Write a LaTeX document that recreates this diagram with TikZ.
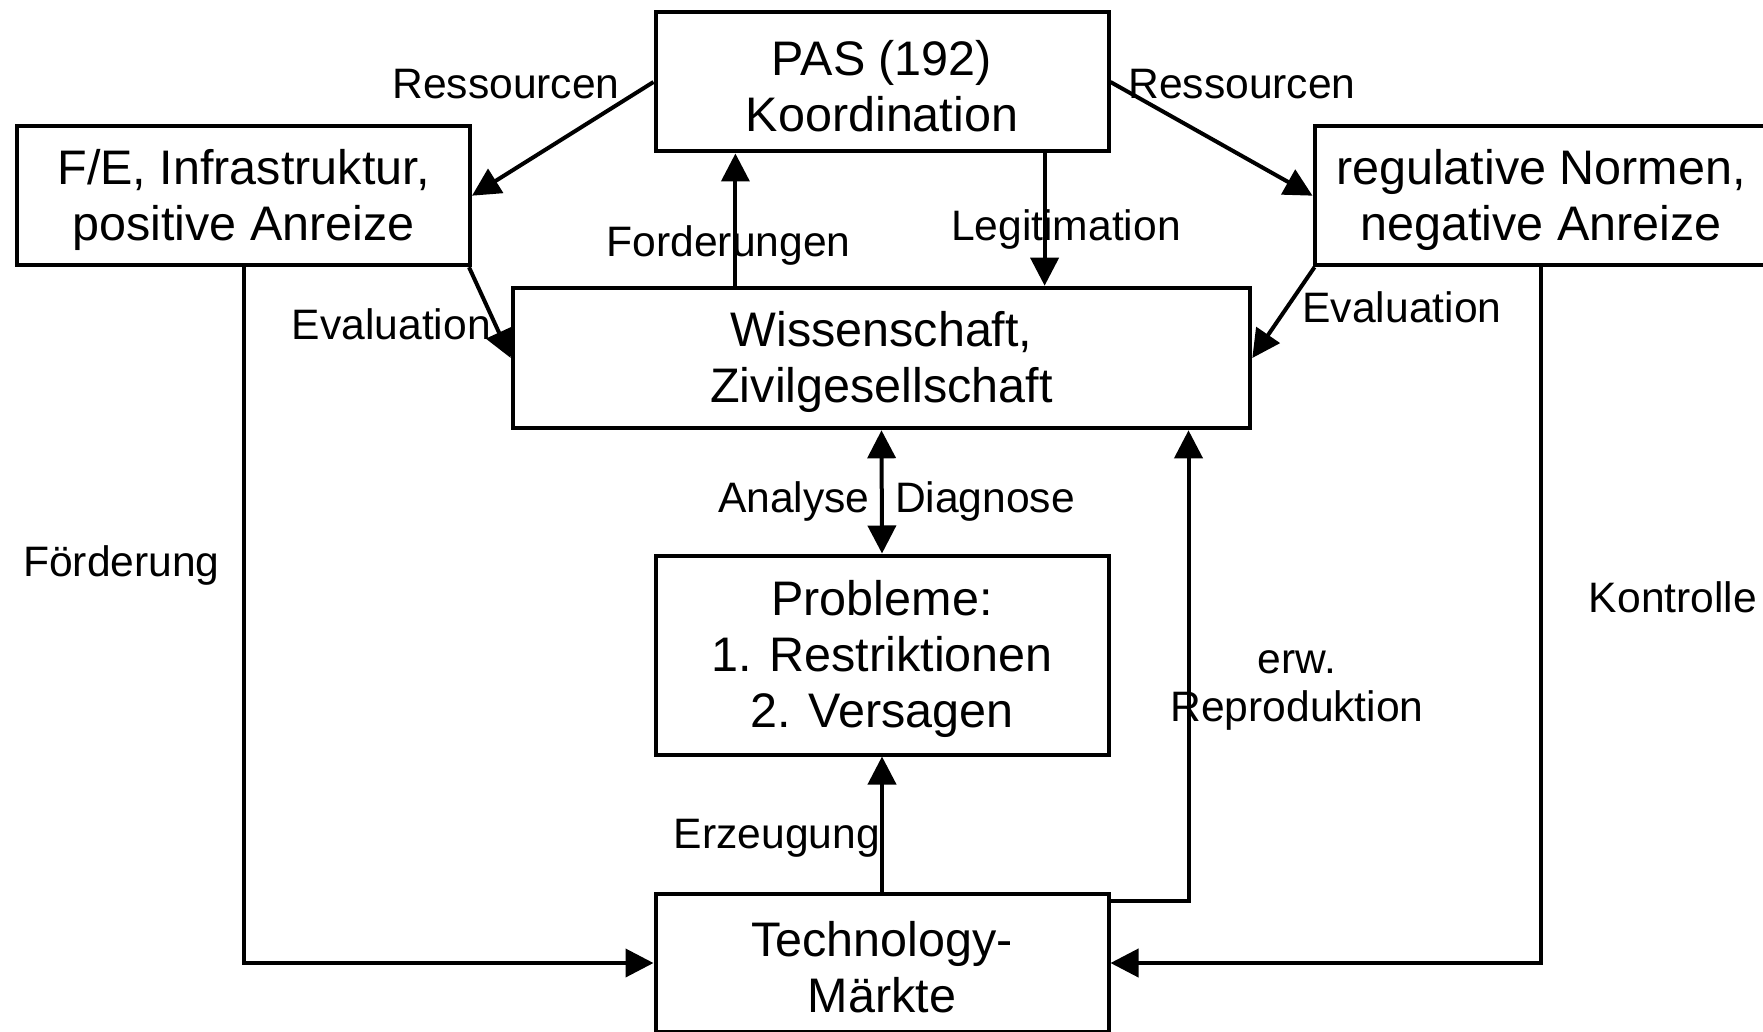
\documentclass[tikz,border=0pt]{standalone}
\usepackage{fontspec}
\setmainfont{Liberation Sans}
\usetikzlibrary{arrows.meta}
\begin{document}
\begin{tikzpicture}[x=1pt,y=-1pt,
  box/.style={draw=black,line width=4pt,fill=white,inner sep=0pt},
  boxtext/.style={inner sep=0pt,align=center,font=\fontsize{48.5}{56}\selectfont},
  lbl/.style={inner sep=0pt,font=\fontsize{42.6}{48}\selectfont,align=center},
  conn/.style={line width=4pt,-{Triangle[length=28pt,width=28pt]}},
  dconn/.style={line width=4pt,{Triangle[length=28pt,width=28pt]}-{Triangle[length=28pt,width=28pt]}}]
\useasboundingbox (0,0) rectangle (1763,1032);
\clip (0,0) rectangle (1763,1032);
\fill[white] (0,0) rectangle (1763,1032);
% boxes
\node[box,minimum width=453pt,minimum height=139pt] (pas) at (882,82) {};
\node[box,minimum width=453pt,minimum height=139pt] (fe) at (243.5,195.7) {};
\node[box,minimum width=453pt,minimum height=139pt] (reg) at (1541,195.7) {};
\node[box,minimum width=737.6pt,minimum height=140.6pt] (wiss) at (881.5,358) {};
\node[box,minimum width=453pt,minimum height=199pt] (prob) at (882,655) {};
\node[box,minimum width=453pt,minimum height=138pt] (tech) at (882,963) {};
\node[boxtext] (past) at ([yshift=-4pt]pas.center) {PAS (192)\\Koordination};
\node[boxtext] (fet) at ([yshift=-4pt]fe.center) {F/E, Infrastruktur,\\positive Anreize};
\node[boxtext] (regt) at ([yshift=-4pt]reg.center) {regulative Normen,\\negative Anreize};
\node[boxtext] (wisst) at ([yshift=-4pt]wiss.center) {Wissenschaft,\\Zivilgesellschaft};
\node[boxtext] (probt) at ([yshift=-4pt]prob.center) {Probleme:\\1. Restriktionen\\2. Versagen};
\node[boxtext] (techt) at ([yshift=-4pt]tech.center) {Technology-\\Märkte};
% helper coordinates
\coordinate (fx) at (735.4,0);
\coordinate (lx) at (1044.6,0);
\coordinate (rx) at (1188.5,0);
% connectors
\draw[conn] (pas.west) -- (fe.east);
\draw[conn] (pas.east) -- (reg.west);
\draw[conn] (wiss.north -| fx) -- (pas.south -| fx);
\draw[conn] (pas.south -| lx) -- (wiss.north -| lx);
\draw[conn] ([xshift=-3pt]fe.south east) -- (wiss.west);
\draw[conn] ([xshift=2pt]reg.south west) -- (wiss.east);
\draw[dconn] (wiss.south) -- (prob.north);
\draw[conn] (tech.north) -- (prob.south);
\draw[conn] ([yshift=-9pt]tech.north east) -| (wiss.south -| rx);
\draw[conn] (fe.south) |- (tech.west);
\draw[conn] (reg.south) |- (tech.east);
% labels
\node[lbl] (l1) at (506,84) {Ressourcen};
\node[lbl] (l2) at (1242,84) {Ressourcen};
\node[lbl] (l3) at (728.6,245.5) {Forderungen};
\node[lbl] (l4) at (1066,229.5) {Legitimation};
\node[lbl] (l5) at (391.3,324.5) {Evaluation};
\node[lbl] (l6) at (1402,307.5) {Evaluation};
\node[lbl] (l7) at (793.8,501.5) {Analyse};
\node[lbl] (l8) at (985,501.5) {Diagnose};
\node[lbl] (l9) at (121.4,565) {Förderung};
\node[lbl] (l10) at (1673,597) {Kontrolle};
\node[lbl] (l11) at (1297,690.5) {erw.\\Reproduktion};
\node[lbl] (l12) at (777,838) {Erzeugung};
\end{tikzpicture}
\end{document}
